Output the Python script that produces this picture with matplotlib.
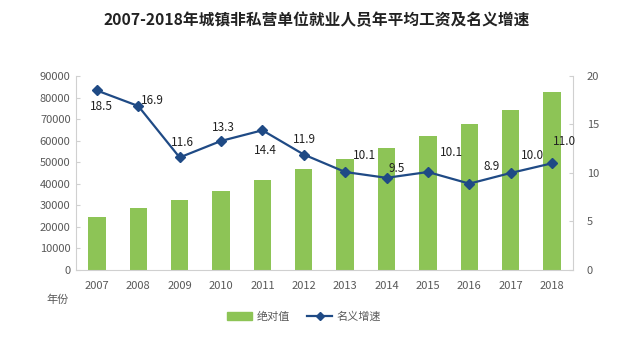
import matplotlib.pyplot as plt
from matplotlib.lines import Line2D
from matplotlib.patches import Patch

plt.rcParams['font.family'] = ['Noto Sans CJK SC', 'DejaVu Sans']

years = ['2007', '2008', '2009', '2010', '2011', '2012',
         '2013', '2014', '2015', '2016', '2017', '2018']
wage = [24721, 28868, 32244, 36539, 41799, 46769,
        51483, 56360, 62029, 67569, 74318, 82461]
growth = [18.5, 16.9, 11.6, 13.3, 14.4, 11.9,
          10.1, 9.5, 10.1, 8.9, 10.0, 11.0]
# label offsets in pixels (dx, dy), dy positive = up
label_offsets = [(5, -16), (14, 6), (3, 15), (2, 13), (3, -20), (1, 15),
                 (19, 17), (10, 9), (24, 20), (22, 17), (22, 17), (12, 22)]

bar_color = '#8DC456'
line_color = '#1F4A85'
spine_color = '#D0D0D0'
tick_color = '#595959'

fig = plt.figure(figsize=(6.4, 3.39), dpi=100)
ax1 = fig.add_axes([0.119, 0.2035, 0.776, 0.5725])
ax2 = ax1.twinx()

x = range(len(years))
ax1.bar(x, wage, width=0.42, color=bar_color, zorder=2)
ax1.set_ylim(0, 90000)
ax1.set_yticks(range(0, 90001, 10000))
ax1.set_xlim(-0.5, len(years) - 0.5)
ax1.set_xticks(list(x))
ax1.set_xticklabels(years)

ax2.plot(list(x), growth, color=line_color, lw=1.6, marker='D', ms=5, zorder=3)
ax2.set_ylim(0, 20)
ax2.set_yticks([0, 5, 10, 15, 20])

for i, v in enumerate(growth):
    dx, dy = label_offsets[i]
    ax2.annotate(f'{v:.1f}', (i, v), xytext=(dx, dy), textcoords='offset pixels',
                 ha='center', va='center', fontsize=8.5, color='#222222')

for ax in (ax1, ax2):
    for s in ax.spines.values():
        s.set_visible(False)
    ax.tick_params(colors=tick_color, labelsize=8, length=3, width=0.8,
                   direction='in')
    ax.tick_params(axis='y', color=spine_color)

ax1.spines['left'].set_visible(True)
ax1.spines['left'].set_color(spine_color)
ax1.spines['bottom'].set_visible(True)
ax1.spines['bottom'].set_color(spine_color)
ax2.spines['right'].set_visible(True)
ax2.spines['right'].set_color(spine_color)
ax1.tick_params(axis='x', length=0, pad=8)
ax1.tick_params(axis='y', pad=4)
ax2.tick_params(axis='y', pad=10)

fig.text(0.495, 0.94, '2007-2018年城镇非私营单位就业人员年平均工资及名义增速',
         ha='center', va='center', fontsize=11.3, fontweight='bold', color='#222222')
fig.text(0.09, 0.115, '年份', ha='center', va='center', fontsize=8, color=tick_color)

handles = [Patch(color=bar_color, label='绝对值'),
           Line2D([0], [0], color=line_color, lw=1.6, marker='D', ms=4, label='名义增速')]
fig.legend(handles=handles, loc='center', bbox_to_anchor=(0.475, 0.065), ncol=2,
           frameon=False, fontsize=8, handlelength=2.2, handletextpad=0.4,
           columnspacing=1.6, labelcolor=tick_color)

fig.savefig('out.png', dpi=100)
